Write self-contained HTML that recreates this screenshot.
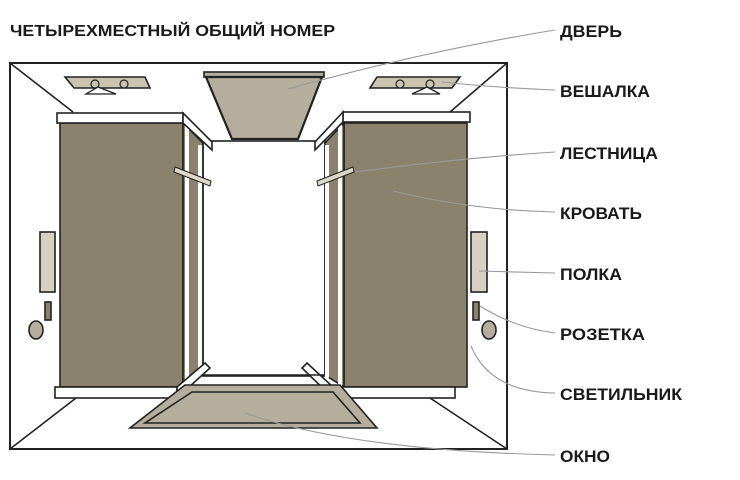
<!DOCTYPE html>
<html><head><meta charset="utf-8"><style>
html,body{margin:0;padding:0;background:#fff;width:740px;height:480px;overflow:hidden}
svg text{font-family:"Liberation Sans",sans-serif;font-weight:bold;fill:#1a1a1a}
</style></head><body>
<svg width="740" height="480" viewBox="0 0 740 480" xmlns="http://www.w3.org/2000/svg">
<g stroke="#222" stroke-width="1.6" fill="none">
<rect x="10" y="63" width="497" height="386" fill="#fff" stroke-width="2"/>
<line x1="10" y1="63" x2="73" y2="112"/>
<line x1="507" y1="63" x2="450" y2="112"/>
<line x1="10" y1="449" x2="76" y2="398"/>
<line x1="507" y1="449" x2="430" y2="398"/>
<!-- hangers -->
<polygon points="65,77 145,77 150,88 74,88" fill="#c9c3b0"/>
<circle cx="95" cy="84" r="4" fill="#c9c3b0" stroke-width="1.2"/>
<circle cx="124" cy="84" r="4" fill="#c9c3b0" stroke-width="1.2"/>
<polygon points="98,87 86,94 116,94" fill="#fff" stroke-width="1.3"/>
<polygon points="377,77 460,77 452,88 370,88" fill="#c9c3b0"/>
<circle cx="400" cy="84" r="4" fill="#c9c3b0" stroke-width="1.2"/>
<circle cx="430" cy="84" r="4" fill="#c9c3b0" stroke-width="1.2"/>
<polygon points="427,87 412,94 440,94" fill="#fff" stroke-width="1.3"/>
<!-- door -->
<rect x="204" y="72" width="120" height="5" fill="#b5ae9c"/>
<polygon points="206,77 322,77 298,139 232,139" fill="#b5ae9c" stroke-width="2.2"/>
<!-- corridor -->
<rect x="203" y="141" width="122" height="235" fill="#fff"/>
<!-- left bed -->
<rect x="60" y="123" width="123" height="264" fill="#8b826d"/>
<polygon points="183,123 203,143 203,375 183,387" fill="#8b826d"/>
<line x1="187" y1="125" x2="187" y2="387" stroke="#fff" stroke-width="4"/>
<line x1="200" y1="145" x2="200" y2="378" stroke="#fff" stroke-width="4"/>
<rect x="57" y="113" width="126" height="10" fill="#fff"/>
<polygon points="183,113 212,142 212,150 183,123" fill="#fff"/>
<polygon points="175,167 211,181 210,186 174,172" fill="#ddd8c8" stroke-width="1"/>
<rect x="55" y="387" width="122" height="11" fill="#fff"/>
<polygon points="177,387 205,363 210,368 177,398" fill="#fff"/>
<!-- right bed -->
<rect x="344" y="123" width="123" height="264" fill="#8b826d"/>
<polygon points="344,123 325,143 325,375 344,387" fill="#8b826d"/>
<line x1="340" y1="125" x2="340" y2="387" stroke="#fff" stroke-width="4"/>
<line x1="327" y1="145" x2="327" y2="378" stroke="#fff" stroke-width="4"/>
<rect x="343" y="112" width="127" height="10" fill="#fff"/>
<polygon points="343,112 315,142 315,150 343,122" fill="#fff"/>
<polygon points="353,167 317,181 318,186 354,172" fill="#ddd8c8" stroke-width="1"/>
<rect x="333" y="387" width="122" height="11" fill="#fff"/>
<polygon points="333,387 307,363 302,368 333,398" fill="#fff"/>
<!-- window -->
<line x1="203" y1="375" x2="325" y2="375"/>
<polygon points="185,385 340,385 377,428 130,428" fill="#b5ae9c"/>
<polygon points="192,392 333,392 360,423 145,423"/>
<!-- shelves, sockets, lamps -->
<rect x="40" y="232" width="15" height="60" fill="#d6d1c0"/>
<rect x="471" y="232" width="16" height="60" fill="#d6d1c0"/>
<rect x="45" y="302" width="6" height="18" fill="#8b826d"/>
<rect x="473" y="302" width="6" height="18" fill="#8b826d"/>
<ellipse cx="36" cy="330" rx="7" ry="9" fill="#b5ae9c"/>
<ellipse cx="489" cy="330" rx="7" ry="9" fill="#b5ae9c"/>
</g>
<g stroke="#999" stroke-width="1.1" fill="none">
<path d="M288,89 Q420,52 555,30"/>
<path d="M442,82 Q500,88 555,90"/>
<path d="M355,172 Q460,158 555,152"/>
<path d="M393,191 Q470,210 555,212"/>
<path d="M479,271 Q520,272 555,273"/>
<path d="M480,306 Q515,328 555,333"/>
<path d="M471,346 Q490,392 555,393"/>
<path d="M245,413 Q350,450 555,455"/>
</g>
<text x="10" y="36" font-size="16" textLength="325" lengthAdjust="spacingAndGlyphs">ЧЕТЫРЕХМЕСТНЫЙ ОБЩИЙ НОМЕР</text>
<g font-size="17">
<text x="560" y="37" textLength="62" lengthAdjust="spacingAndGlyphs">ДВЕРЬ</text>
<text x="560" y="97" textLength="90" lengthAdjust="spacingAndGlyphs">ВЕШАЛКА</text>
<text x="560" y="159" textLength="98" lengthAdjust="spacingAndGlyphs">ЛЕСТНИЦА</text>
<text x="560" y="219" textLength="82" lengthAdjust="spacingAndGlyphs">КРОВАТЬ</text>
<text x="560" y="280" textLength="62" lengthAdjust="spacingAndGlyphs">ПОЛКА</text>
<text x="560" y="340" textLength="85" lengthAdjust="spacingAndGlyphs">РОЗЕТКА</text>
<text x="560" y="400" textLength="122" lengthAdjust="spacingAndGlyphs">СВЕТИЛЬНИК</text>
<text x="560" y="462" textLength="50" lengthAdjust="spacingAndGlyphs">ОКНО</text>
</g>
</svg>
</body></html>
